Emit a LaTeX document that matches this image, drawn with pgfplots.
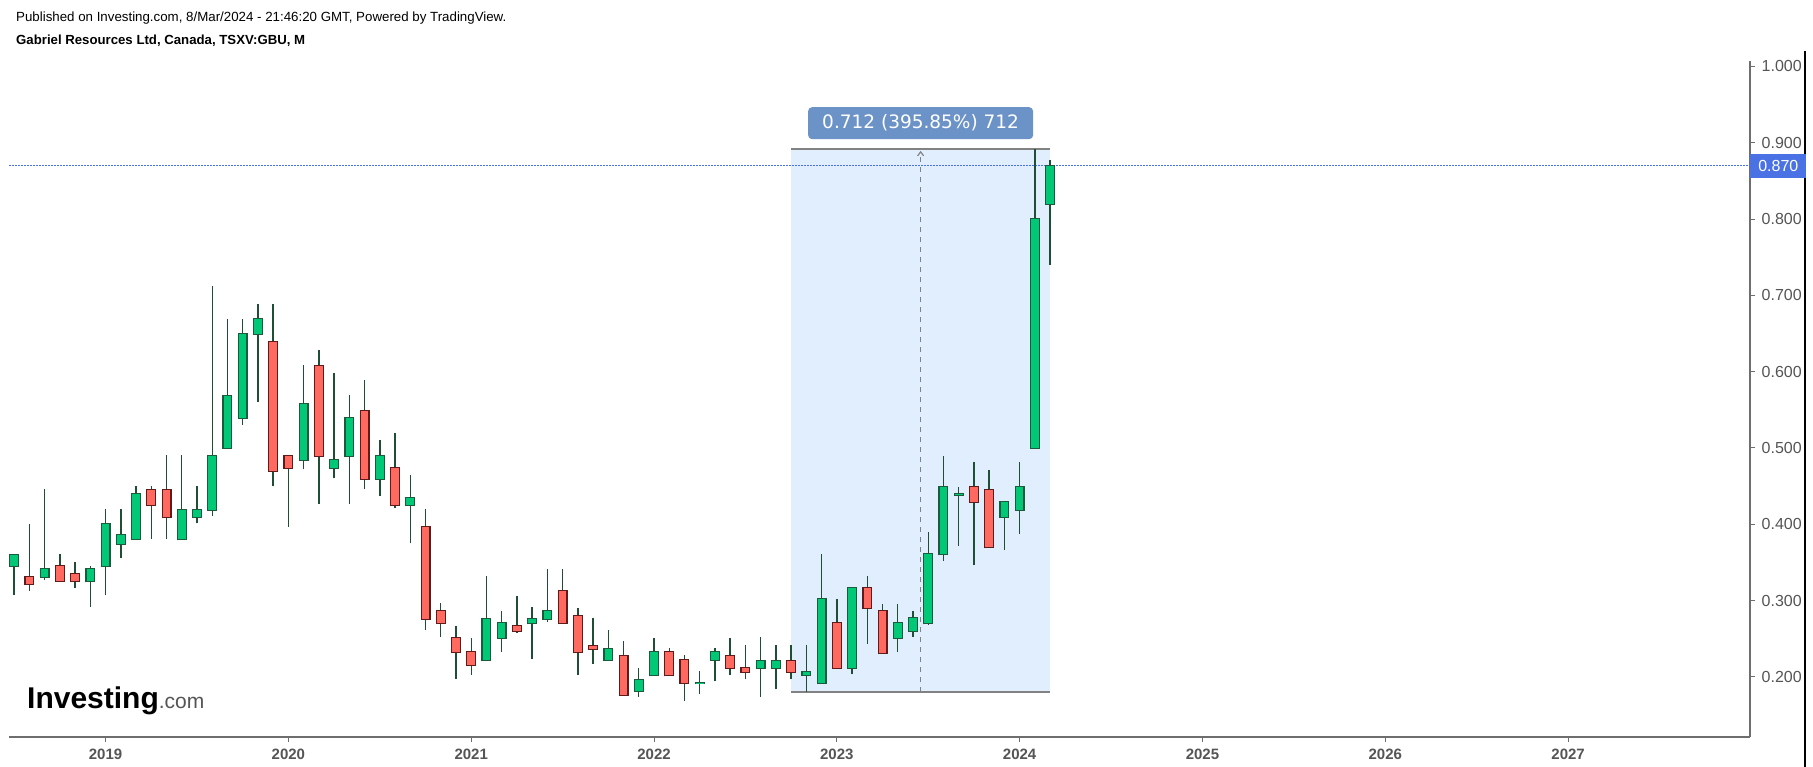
\documentclass[border=0pt]{standalone}
\usepackage{fontspec}
\setmainfont{Liberation Sans}
\newfontfamily\dejavu{DejaVu Sans}
\usepackage{pgfplots}
\pgfplotsset{compat=1.18}
\usepackage{pgfplotstable}
\definecolor{gfill}{RGB}{0,200,118}
\definecolor{gedge}{RGB}{27,90,58}
\definecolor{rfill}{RGB}{255,105,96}
\definecolor{redge}{RGB}{95,26,26}
\definecolor{wick}{RGB}{30,78,52}
\definecolor{boxfill}{RGB}{225,238,253}
\definecolor{boxline}{RGB}{130,130,130}
\definecolor{lblfill}{RGB}{108,147,199}
\definecolor{pricefill}{RGB}{74,114,228}
\definecolor{axgray}{RGB}{110,110,110}
\definecolor{txtgray}{RGB}{85,85,85}

\pgfplotstableread{
m o h l c
-6 0.345 0.360 0.307 0.360
-4 0.331 0.446 0.327 0.341
-1 0.325 0.345 0.292 0.341
0 0.345 0.420 0.307 0.400
1 0.374 0.420 0.356 0.386
2 0.380 0.450 0.380 0.439
5 0.380 0.491 0.380 0.419
6 0.409 0.450 0.401 0.419
7 0.419 0.712 0.411 0.490
8 0.500 0.669 0.500 0.568
9 0.539 0.669 0.530 0.649
10 0.649 0.689 0.560 0.669
13 0.484 0.609 0.472 0.558
15 0.474 0.598 0.460 0.484
16 0.490 0.569 0.427 0.539
18 0.459 0.510 0.437 0.490
20 0.425 0.465 0.375 0.435
25 0.222 0.332 0.222 0.276
26 0.251 0.2865 0.233 0.270
28 0.270 0.291 0.223 0.276
29 0.276 0.341 0.272 0.286
33 0.222 0.261 0.222 0.237
35 0.182 0.212 0.174 0.196
36 0.202 0.251 0.202 0.232
39 0.1915 0.207 0.178 0.192
40 0.222 0.238 0.194 0.232
43 0.2115 0.2516 0.174 0.221
44 0.2115 0.2416 0.184 0.221
46 0.202 0.2416 0.180 0.206
47 0.1925 0.361 0.1925 0.302
49 0.2115 0.316 0.204 0.316
52 0.251 0.296 0.2325 0.271
53 0.260 0.286 0.2525 0.2765
54 0.270 0.390 0.268 0.3605
55 0.3605 0.490 0.352 0.449
56 0.4385 0.449 0.372 0.439
59 0.410 0.4295 0.366 0.4295
60 0.419 0.481 0.3875 0.449
61 0.500 0.892 0.500 0.800
62 0.820 0.877 0.740 0.870
}\greentab

\pgfplotstableread{
m o h l c
-5 0.331 0.400 0.313 0.321
-3 0.345 0.361 0.325 0.325
-2 0.335 0.351 0.317 0.325
3 0.445 0.450 0.381 0.425
4 0.445 0.491 0.381 0.409
11 0.639 0.689 0.450 0.470
12 0.490 0.490 0.397 0.474
14 0.608 0.628 0.427 0.490
17 0.549 0.589 0.446 0.459
19 0.474 0.520 0.421 0.425
21 0.396 0.420 0.262 0.276
22 0.2865 0.297 0.252 0.270
23 0.251 0.267 0.197 0.232
24 0.232 0.251 0.203 0.2155
27 0.2665 0.306 0.258 0.260
30 0.312 0.341 0.270 0.270
31 0.280 0.290 0.203 0.232
32 0.241 0.277 0.217 0.237
34 0.227 0.247 0.176 0.176
37 0.232 0.238 0.202 0.202
38 0.222 0.228 0.168 0.192
41 0.227 0.251 0.203 0.212
42 0.2115 0.2416 0.197 0.206
45 0.221 0.2416 0.197 0.206
48 0.271 0.302 0.2115 0.2115
50 0.316 0.332 0.2425 0.290
51 0.286 0.296 0.231 0.231
57 0.449 0.481 0.3465 0.4295
58 0.445 0.471 0.370 0.370
}\redtab

\begin{document}
\begin{tikzpicture}[x=1pt,y=1pt]
\useasboundingbox (0,0) rectangle (1813,767);
\fill[white] (0,0) rectangle (1813,767);
\node[anchor=west, inner sep=0, font=\fontsize{13.3}{15}\selectfont] at (16,749) {Published on Investing.com, 8/Mar/2024 - 21:46:20 GMT, Powered by TradingView.};
\node[anchor=west, inner sep=0, font=\fontsize{13.2}{15}\selectfont\bfseries] at (16,726) {Gabriel Resources Ltd, Canada, TSXV:GBU, M};
\node[anchor=base west, inner sep=0] at (27,58) {{\fontsize{30}{30}\selectfont\bfseries Investing}{\fontsize{21}{21}\selectfont\color{txtgray}.com}};
\draw[black, line width=1.5pt] (1805,0) -- (1805,716);
\begin{axis}[
  at={(6,39)}, anchor=south west, scale only axis,
  width=1741pt, height=676pt,
  xmin=-6.33, xmax=107.95, ymin=0.1208, ymax=1.0068,
  clip=false,
  axis x line*=bottom, axis y line*=right,
  axis line style={axgray, line width=2pt, -},
  tick align=outside, major tick length=5pt,
  tick style={axgray, line width=1pt},
  xtick={0,12,24,36,48,60,72,84,96},
  xticklabels={2019,2020,2021,2022,2023,2024,2025,2026,2027},
  ytick={0.2,0.3,0.4,0.5,0.6,0.7,0.8,0.9,1.0},
  /pgf/number format/assume math mode=true,
  yticklabel style={/pgf/number format/fixed, /pgf/number format/fixed zerofill, /pgf/number format/precision=3, font=\fontsize{16}{16}\selectfont, text=txtgray, xshift=3pt},
  xticklabel style={font=\fontsize{15}{15}\selectfont\bfseries, text=txtgray, yshift=-3pt},
]
% measurement box
\fill[boxfill] (axis cs:45,0.180) rectangle (axis cs:62,0.892);
\draw[boxline, line width=1.5pt] (axis cs:45,0.892) -- (axis cs:62,0.892);
\draw[boxline, line width=1.5pt] (axis cs:45,0.180) -- (axis cs:62,0.180);
\draw[boxline, line width=1.3pt, dash pattern=on 5pt off 5pt] (axis cs:53.5,0.180) -- (axis cs:53.5,0.884);
\draw[boxline, line width=1.2pt] (axis cs:53.5,0.888) ++(-3pt,-4pt) -- ++(3pt,4pt) -- ++(3pt,-4pt);
% price line
\draw[pricefill, line width=1pt, dash pattern=on 1.5pt off 1.5pt] (axis cs:-6.33,0.870) -- (axis cs:107.95,0.870);
% wicks
\addplot[draw=none, mark=none, error bars/.cd, y dir=plus, y explicit, error mark=none,
  error bar style={draw=wick, line width=1.4pt}]
  table[x=m, y=l, y error plus expr=\thisrow{h}-\thisrow{l}] {\greentab};
\addplot[draw=none, mark=none, error bars/.cd, y dir=plus, y explicit, error mark=none,
  error bar style={draw=wick, line width=1.4pt}]
  table[x=m, y=l, y error plus expr=\thisrow{h}-\thisrow{l}] {\redtab};
% bodies green
\addplot[draw=none, mark=none, error bars/.cd, y dir=plus, y explicit, error mark=none,
  error bar style={draw=gedge, line width=10pt}]
  table[x=m, y expr=\thisrow{o}-0.0013, y error plus expr=\thisrow{c}-\thisrow{o}+0.0026] {\greentab};
\addplot[draw=none, mark=none, error bars/.cd, y dir=plus, y explicit, error mark=none,
  error bar style={draw=gfill, line width=7.6pt}]
  table[x=m, y=o, y error plus expr=\thisrow{c}-\thisrow{o}] {\greentab};
% bodies red
\addplot[draw=none, mark=none, error bars/.cd, y dir=plus, y explicit, error mark=none,
  error bar style={draw=redge, line width=10pt}]
  table[x=m, y expr=\thisrow{c}-0.0013, y error plus expr=\thisrow{o}-\thisrow{c}+0.0026] {\redtab};
\addplot[draw=none, mark=none, error bars/.cd, y dir=plus, y explicit, error mark=none,
  error bar style={draw=rfill, line width=7.6pt}]
  table[x=m, y=c, y error plus expr=\thisrow{o}-\thisrow{c}] {\redtab};
% labels
\node[fill=lblfill, rounded corners=4pt, text=white, minimum width=225pt, minimum height=32pt, inner sep=0, font=\dejavu\fontsize{18.5}{20}\selectfont] at (axis cs:53.5,0.9256) {0.712 (395.85\%) 712};
\node[fill=pricefill, text=white, anchor=west, minimum height=24pt, minimum width=56pt, inner sep=0, font=\fontsize{16}{16}\selectfont] at (axis cs:107.95,0.870) {0.870};
\end{axis}
\end{tikzpicture}
\end{document}
